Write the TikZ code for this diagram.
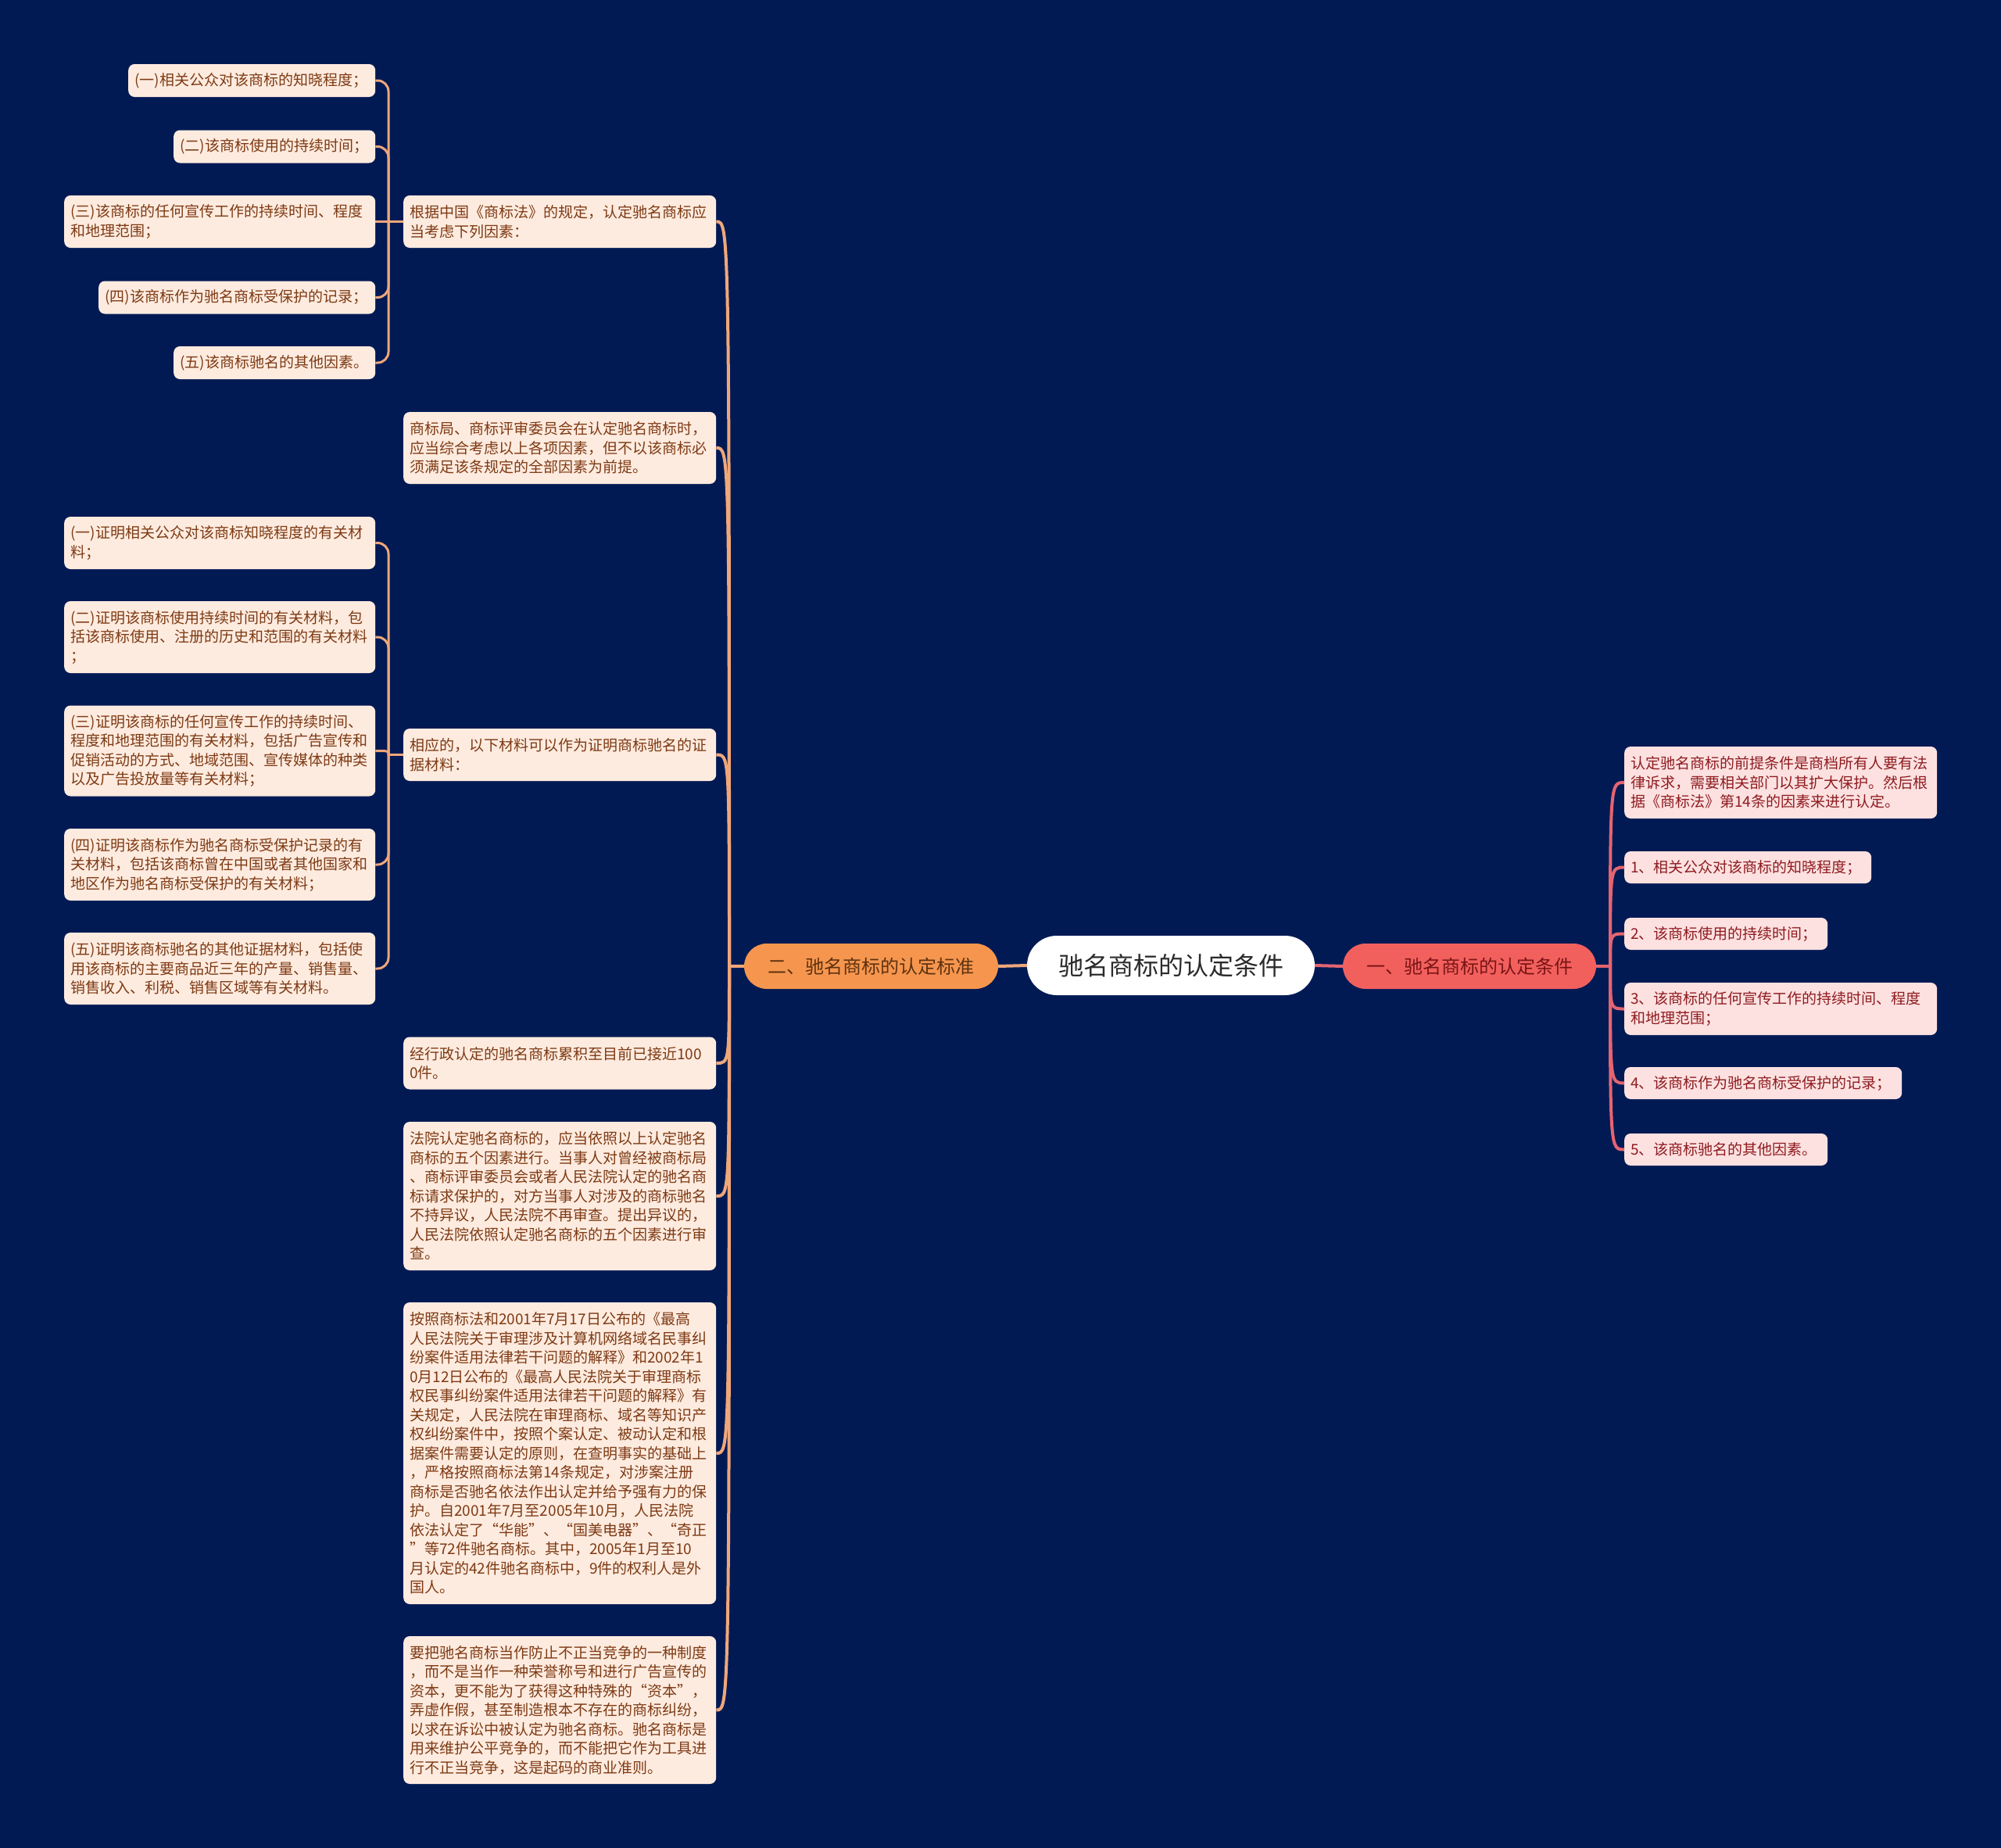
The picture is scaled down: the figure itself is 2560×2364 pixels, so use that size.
\documentclass[tikz,border=0pt]{standalone}
\usepackage{fontspec}
\usetikzlibrary{calc}
\setmainfont{Noto Sans CJK SC}
\definecolor{bg}{HTML}{021A54}
\definecolor{lfill}{HTML}{FEEBDF}
\definecolor{ltext}{HTML}{7D3A14}
\definecolor{rfill}{HTML}{FDE1E1}
\definecolor{rtext}{HTML}{8E1B1F}
\definecolor{ofill}{HTML}{F6964E}
\definecolor{otext}{HTML}{5E3210}
\definecolor{redfill}{HTML}{F2605E}
\definecolor{redtext}{HTML}{7A1515}
\definecolor{ctext}{HTML}{2B2B2B}
\definecolor{oline}{HTML}{EFA77A}
\definecolor{rline}{HTML}{E56470}
\tikzset{
  boxbase/.style={anchor=west, rounded corners=8pt, align=left, inner xsep=8pt, inner ysep=0pt,
    font=\fontsize{19}{24.5}\selectfont},
  lbox/.style={boxbase, fill=lfill, text=ltext},
  rbox/.style={boxbase, fill=rfill, text=rtext},
  olink/.style={draw=oline, line width=4pt},
  tlink/.style={draw=oline, line width=3pt, rounded corners=14pt},
  rlink/.style={draw=rline, line width=4pt},
}
\begin{document}
\begin{tikzpicture}[x=1pt,y=-1pt]
\fill[bg] (0,0) rectangle (2560,2364);
\useasboundingbox (0,0) rectangle (2560,2364);

% central and main branches
\node[fill=white, text=ctext, rounded corners=38pt, minimum width=368pt, minimum height=76pt, inner sep=0pt,
  font=\fontsize{32}{36}\selectfont] (C) at (1498,1235) {驰名商标的认定条件};
\node[fill=ofill, text=otext, rounded corners=29pt, minimum width=325pt, minimum height=58pt, inner sep=0pt,
  font=\fontsize{24}{28}\selectfont] (O) at (1114.5,1236) {二、驰名商标的认定标准};
\node[fill=redfill, text=redtext, rounded corners=29pt, minimum width=324pt, minimum height=58pt, inner sep=0pt,
  font=\fontsize{24}{28}\selectfont] (Rn) at (1880,1236) {一、驰名商标的认定条件};

% left level-2 boxes
\node[lbox, text width=384pt, minimum height=67pt] (L1) at (516,283.5) {根据中国《商标法》的规定，认定驰名商标应\\当考虑下列因素：};
\node[lbox, text width=384pt, minimum height=92pt] (L2) at (516,573) {商标局、商标评审委员会在认定驰名商标时，\\应当综合考虑以上各项因素，但不以该商标必\\须满足该条规定的全部因素为前提。};
\node[lbox, text width=384pt, minimum height=67pt] (L3) at (516,965.5) {相应的，以下材料可以作为证明商标驰名的证\\据材料：};
\node[lbox, text width=384pt, minimum height=67pt] (L4) at (516,1360) {经行政认定的驰名商标累积至目前已接近100\\0件。};
\node[lbox, text width=384pt, minimum height=190pt] (L5) at (516,1530) {法院认定驰名商标的，应当依照以上认定驰名\\商标的五个因素进行。当事人对曾经被商标局\\、商标评审委员会或者人民法院认定的驰名商\\标请求保护的，对方当事人对涉及的商标驰名\\不持异议，人民法院不再审查。提出异议的，\\人民法院依照认定驰名商标的五个因素进行审\\查。};
\node[lbox, text width=384pt, minimum height=386pt] (L6) at (516,1859) {按照商标法和2001年7月17日公布的《最高\\人民法院关于审理涉及计算机网络域名民事纠\\纷案件适用法律若干问题的解释》和2002年1\\0月12日公布的《最高人民法院关于审理商标\\权民事纠纷案件适用法律若干问题的解释》有\\关规定，人民法院在审理商标、域名等知识产\\权纠纷案件中，按照个案认定、被动认定和根\\据案件需要认定的原则，在查明事实的基础上\\，严格按照商标法第14条规定，对涉案注册\\商标是否驰名依法作出认定并给予强有力的保\\护。自2001年7月至2005年10月，人民法院\\依法认定了“华能”、“国美电器”、“奇正\\”等72件驰名商标。其中，2005年1月至10\\月认定的42件驰名商标中，9件的权利人是外\\国人。};
\node[lbox, text width=384pt, minimum height=189pt] (L7) at (516,2187.5) {要把驰名商标当作防止不正当竞争的一种制度\\，而不是当作一种荣誉称号和进行广告宣传的\\资本，更不能为了获得这种特殊的“资本”，\\弄虚作假，甚至制造根本不存在的商标纠纷，\\以求在诉讼中被认定为驰名商标。驰名商标是\\用来维护公平竞争的，而不能把它作为工具进\\行不正当竞争，这是起码的商业准则。};

% level-3 under L1
\node[lbox, text width=300pt, minimum height=42pt] (A1) at (164,103) {(一)相关公众对该商标的知晓程度；};
\node[lbox, text width=242pt, minimum height=42pt] (A2) at (222,187.5) {(二)该商标使用的持续时间；};
\node[lbox, text width=382pt, minimum height=67pt] (A3) at (82,283.5) {(三)该商标的任何宣传工作的持续时间、程度\\和地理范围；};
\node[lbox, text width=338pt, minimum height=42pt] (A4) at (126,380.5) {(四)该商标作为驰名商标受保护的记录；};
\node[lbox, text width=242pt, minimum height=42pt] (A5) at (222,464) {(五)该商标驰名的其他因素。};

% level-3 under L3
\node[lbox, text width=382pt, minimum height=67pt] (B1) at (82,694.5) {(一)证明相关公众对该商标知晓程度的有关材\\料；};
\node[lbox, text width=382pt, minimum height=92pt] (B2) at (82,815) {(二)证明该商标使用持续时间的有关材料，包\\括该商标使用、注册的历史和范围的有关材料\\；};
\node[lbox, text width=382pt, minimum height=116pt] (B3) at (82,960.5) {(三)证明该商标的任何宣传工作的持续时间、\\程度和地理范围的有关材料，包括广告宣传和\\促销活动的方式、地域范围、宣传媒体的种类\\以及广告投放量等有关材料；};
\node[lbox, text width=382pt, minimum height=92pt] (B4) at (82,1106) {(四)证明该商标作为驰名商标受保护记录的有\\关材料，包括该商标曾在中国或者其他国家和\\地区作为驰名商标受保护的有关材料；};
\node[lbox, text width=382pt, minimum height=92pt] (B5) at (82,1239) {(五)证明该商标驰名的其他证据材料，包括使\\用该商标的主要商品近三年的产量、销售量、\\销售收入、利税、销售区域等有关材料。};

% right boxes
\node[rbox, text width=384pt, minimum height=92pt] (R0) at (2078,1001) {认定驰名商标的前提条件是商档所有人要有法\\律诉求，需要相关部门以其扩大保护。然后根\\据《商标法》第14条的因素来进行认定。};
\node[rbox, text width=300pt, minimum height=41pt] (R1) at (2078,1109.5) {1、相关公众对该商标的知晓程度；};
\node[rbox, text width=244pt, minimum height=41pt] (R2) at (2078,1194.5) {2、该商标使用的持续时间；};
\node[rbox, text width=384pt, minimum height=67pt] (R3) at (2078,1290.5) {3、该商标的任何宣传工作的持续时间、程度\\和地理范围；};
\node[rbox, text width=339pt, minimum height=41pt] (R4) at (2078,1385.5) {4、该商标作为驰名商标受保护的记录；};
\node[rbox, text width=244pt, minimum height=41pt] (R5) at (2078,1470.5) {5、该商标驰名的其他因素。};

% connectors: centre
\draw[olink] (C.west) -- (O.east);
\draw[rlink] (C.east) -- (Rn.west);

% orange column
\coordinate (os) at (933,1236);
\draw[olink] (O.west) -- (os);
\foreach \n in {L1,L2,L3,L4,L5,L6,L7}
  \draw[olink] (os) .. controls (os |- \n.east) .. (\n.east);

% right column
\coordinate (rs) at (2060,1236);
\draw[rlink] (Rn.east) -- (rs);
\foreach \n in {R0,R1,R2,R3,R4,R5}
  \draw[rlink] (rs) .. controls (rs |- \n.west) .. (\n.west);

% level-3 connectors
\coordinate (as) at (497,283.5);
\draw[tlink] (L1.west) -- (as);
\foreach \n in {A1,A2,A4,A5}
  \draw[tlink] (as) |- (\n.east);
\draw[tlink] (as) -- (A3.east);

\coordinate (bs) at (497,965.5);
\draw[tlink] (L3.west) -- (bs);
\foreach \n in {B1,B2,B4,B5}
  \draw[tlink] (bs) |- (\n.east);
\draw[tlink] (bs) .. controls (bs |- B3.east) .. (B3.east);
\end{tikzpicture}
\end{document}
